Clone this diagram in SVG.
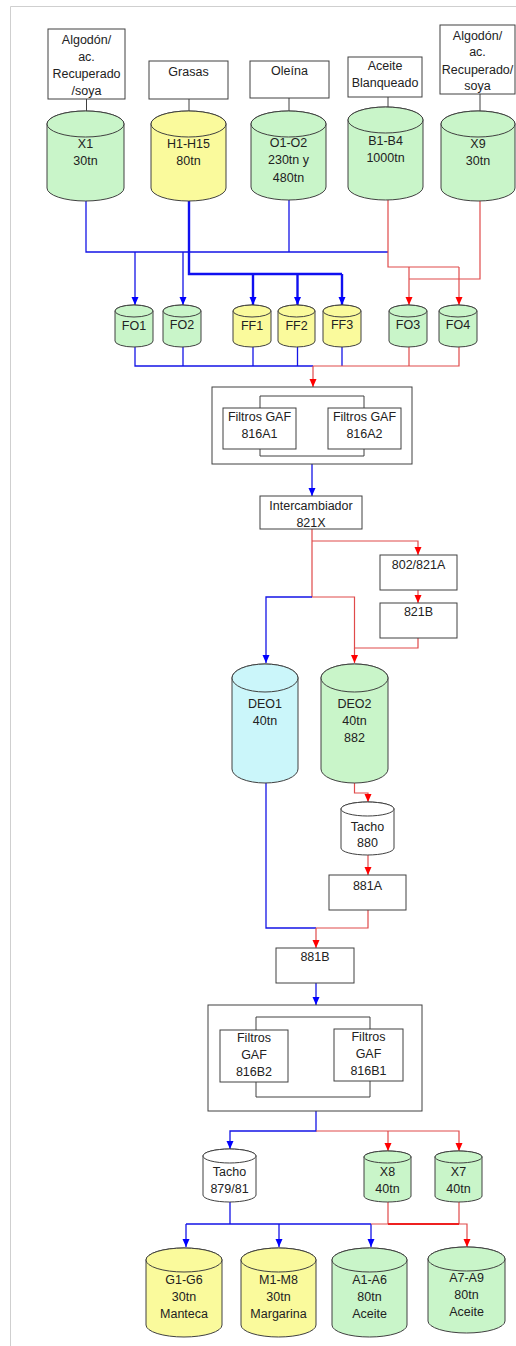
<svg xmlns="http://www.w3.org/2000/svg" width="516" height="1346" viewBox="0 0 516 1346">
  <style>
    .frame { fill: none; stroke: #cfcfcf; stroke-width: 1; }
    .box { fill: #ffffff; stroke: #404040; stroke-width: 1; }
    .tank { stroke: #404040; stroke-width: 1; }
    .g { fill: #c9f5c9; }
    .y { fill: #fafa9c; }
    .c { fill: #cbf6fa; }
    .w { fill: #ffffff; }
    .lbl { font-family: "Liberation Sans", Arial, sans-serif; font-size: 12.5px; fill: #222; text-anchor: middle; }
    .feed { fill: none; stroke: #404040; stroke-width: 1; }
    .blue { fill: none; stroke: #1414e6; stroke-width: 1.3; }
    .blue2 { fill: none; stroke: #1010f0; stroke-width: 2.4; }
    .red { fill: none; stroke: #e04a4a; stroke-width: 1.2; }
    .red2 { fill: none; stroke: #ee2020; stroke-width: 2.2; }
    .ba { marker-end: url(#ahB); }
    .ra { marker-end: url(#ahR); }
  </style>
  <defs>
    <marker id="ahB" markerUnits="userSpaceOnUse" markerWidth="9" markerHeight="8" refX="8" refY="3.5" orient="auto">
      <path d="M0,0 L8,3.5 L0,7 Z" fill="#0000ff"/>
    </marker>
    <marker id="ahR" markerUnits="userSpaceOnUse" markerWidth="9" markerHeight="8" refX="8" refY="3.5" orient="auto">
      <path d="M0,0 L8,3.5 L0,7 Z" fill="#ff0000"/>
    </marker>
  </defs>

  <rect width="516" height="1346" fill="#ffffff"/>
  <path class="frame" d="M10.5,1346 V6.5 H516"/>

  <!-- connectors -->
  <g id="connectors">
    <!-- feed boxes to storage tanks -->
    <path class="feed" d="M86.5,99 V111 M189,99 V111 M289,98 V111 M388,97 V107 M480,94 V111"/>

    <!-- storage tanks to FO / FF tanks -->
    <path class="blue" d="M86,201 V252 H388 M289,200 V252"/>
    <path class="blue ba" d="M135,252 V305"/>
    <path class="blue ba" d="M183,252 V305"/>
    <path class="blue2" d="M189,201 V274 H342"/>
    <path class="blue2 ba" d="M253,274 V305"/>
    <path class="blue2 ba" d="M297.5,274 V305"/>
    <path class="blue2 ba" d="M342,274 V305"/>
    <path class="red" d="M388,200 V267 H459 M480,201 V279 H409"/>
    <path class="red ra" d="M409,267 V305"/>
    <path class="red ra" d="M459,267 V305"/>

    <!-- FO / FF tanks to filters A -->
    <path class="blue" d="M135,347 V366 H313 M183,347 V366 M253,347 V366 M297.5,347 V366 M342,347 V366"/>
    <path class="red" d="M313,366 H459 V347 M409,347 V366"/>
    <path class="red ra" d="M313,366 V387"/>

    <!-- filters A to exchanger -->
    <path class="blue ba" d="M312,464 V496"/>

    <!-- exchanger to deodorizers -->
    <path class="red" d="M312,529 V597 H354.5 V648 H418 V638"/>
    <path class="red ra" d="M312,541 H418 V555"/>
    <path class="red ra" d="M418,590 V603"/>
    <path class="red ra" d="M354.5,648 V663"/>
    <path class="blue ba" d="M312,597 H266 V663"/>

    <!-- deodorizer 2 line -->
    <path class="red ra" d="M354.5,783 V793 H368 V802"/>
    <path class="red ra" d="M368,855 V875"/>
    <path class="red" d="M368,910 V928 H316"/>
    <path class="blue" d="M266,783 V928 H316"/>
    <path class="red ra" d="M316,928 V948"/>

    <!-- 881B to filters B -->
    <path class="blue ba" d="M316,983 V1005"/>

    <!-- filters B to tacho / X tanks -->
    <path class="blue ba" d="M316,1111 V1131 H230 V1149"/>
    <path class="red ra" d="M316,1131 H459 V1151"/>
    <path class="red ra" d="M388,1131 V1151"/>

    <!-- to final storage -->
    <path class="blue" d="M230,1202 V1224 M186,1224 H371"/>
    <path class="blue ba" d="M186,1224 V1247"/>
    <path class="blue ba" d="M279,1224 V1247"/>
    <path class="blue ba" d="M371,1224 V1247"/>
    <path class="red" d="M371,1224 H388 V1202 M459,1202 V1224"/>
    <path class="red2" d="M388,1224 H459"/>
    <path class="red ra" d="M459,1224 H467 V1247"/>
  </g>

  <!-- feed boxes -->
  <g id="src-algodon1">
    <rect class="box" x="48" y="29" width="77" height="70"/>
    <text class="lbl" x="86.5" y="44">Algodón/<tspan x="86.5" dy="17">ac.</tspan><tspan x="86.5" dy="17">Recuperado</tspan><tspan x="86.5" dy="17">/soya</tspan></text>
  </g>
  <g id="src-grasas">
    <rect class="box" x="149" y="61" width="79" height="38"/>
    <text class="lbl" x="188.5" y="75.5">Grasas</text>
  </g>
  <g id="src-oleina">
    <rect class="box" x="250" y="61" width="79" height="37"/>
    <text class="lbl" x="289.5" y="75">Oleína</text>
  </g>
  <g id="src-blanqueado">
    <rect class="box" x="348" y="57" width="74" height="40"/>
    <text class="lbl" x="385" y="69.5">Aceite<tspan x="385" dy="17.5">Blanqueado</tspan></text>
  </g>
  <g id="src-algodon2">
    <rect class="box" x="440" y="25" width="75" height="69"/>
    <text class="lbl" x="477.5" y="39.5">Algodón/<tspan x="477.5" dy="16">ac.</tspan><tspan x="477.5" dy="18">Recuperado/</tspan><tspan x="477.5" dy="16.5">soya</tspan></text>
  </g>

  <!-- storage tanks -->
  <g id="tank-x1">
    <path class="tank g" d="M47,124 V188 A38.5,13 0 0 0 124,188 V124 A38.5,13 0 0 0 47,124 Z"/>
    <ellipse class="tank g" cx="85.5" cy="124" rx="38.5" ry="13"/>
    <text class="lbl" x="85.5" y="147.5">X1<tspan x="85.5" dy="17">30tn</tspan></text>
  </g>
  <g id="tank-h1">
    <path class="tank y" d="M151,124 V188 A37.5,13 0 0 0 226,188 V124 A37.5,13 0 0 0 151,124 Z"/>
    <ellipse class="tank y" cx="188.5" cy="124" rx="37.5" ry="13"/>
    <text class="lbl" x="188.5" y="147.5">H1-H15<tspan x="188.5" dy="17">80tn</tspan></text>
  </g>
  <g id="tank-o1">
    <path class="tank g" d="M251,124 V187 A37.5,13 0 0 0 326,187 V124 A37.5,13 0 0 0 251,124 Z"/>
    <ellipse class="tank g" cx="288.5" cy="124" rx="37.5" ry="13"/>
    <text class="lbl" x="288.5" y="146.5">O1-O2<tspan x="288.5" dy="17.5">230tn y</tspan><tspan x="288.5" dy="17.5">480tn</tspan></text>
  </g>
  <g id="tank-b1">
    <path class="tank g" d="M348,120 V187 A37.5,13 0 0 0 423,187 V120 A37.5,13 0 0 0 348,120 Z"/>
    <ellipse class="tank g" cx="385.5" cy="120" rx="37.5" ry="13"/>
    <text class="lbl" x="385.5" y="144.5">B1-B4<tspan x="385.5" dy="17.5">1000tn</tspan></text>
  </g>
  <g id="tank-x9">
    <path class="tank g" d="M441,124 V188 A37,13 0 0 0 515,188 V124 A37,13 0 0 0 441,124 Z"/>
    <ellipse class="tank g" cx="478" cy="124" rx="37" ry="13"/>
    <text class="lbl" x="478" y="147.5">X9<tspan x="478" dy="17">30tn</tspan></text>
  </g>

  <!-- FO / FF tanks -->
  <g id="tank-fo1">
    <path class="tank g" d="M115,311 V341 A19,6 0 0 0 153,341 V311 A19,6 0 0 0 115,311 Z"/>
    <ellipse class="tank g" cx="134" cy="311" rx="19" ry="6"/>
    <text class="lbl" x="134" y="330">FO1</text>
  </g>
  <g id="tank-fo2">
    <path class="tank g" d="M163,311 V341 A19,6 0 0 0 201,341 V311 A19,6 0 0 0 163,311 Z"/>
    <ellipse class="tank g" cx="182" cy="311" rx="19" ry="6"/>
    <text class="lbl" x="182" y="329">FO2</text>
  </g>
  <g id="tank-ff1">
    <path class="tank y" d="M233,311 V341 A19,6 0 0 0 271,341 V311 A19,6 0 0 0 233,311 Z"/>
    <ellipse class="tank y" cx="252" cy="311" rx="19" ry="6"/>
    <text class="lbl" x="252" y="330">FF1</text>
  </g>
  <g id="tank-ff2">
    <path class="tank y" d="M278,311 V341 A18.5,6 0 0 0 315,341 V311 A18.5,6 0 0 0 278,311 Z"/>
    <ellipse class="tank y" cx="296.5" cy="311" rx="18.5" ry="6"/>
    <text class="lbl" x="296.5" y="330">FF2</text>
  </g>
  <g id="tank-ff3">
    <path class="tank y" d="M323,311 V341 A19,6 0 0 0 361,341 V311 A19,6 0 0 0 323,311 Z"/>
    <ellipse class="tank y" cx="342" cy="311" rx="19" ry="6"/>
    <text class="lbl" x="342" y="329">FF3</text>
  </g>
  <g id="tank-fo3">
    <path class="tank g" d="M389,311 V341 A19,6 0 0 0 427,341 V311 A19,6 0 0 0 389,311 Z"/>
    <ellipse class="tank g" cx="408" cy="311" rx="19" ry="6"/>
    <text class="lbl" x="408" y="329">FO3</text>
  </g>
  <g id="tank-fo4">
    <path class="tank g" d="M439,311 V341 A19,6 0 0 0 477,341 V311 A19,6 0 0 0 439,311 Z"/>
    <ellipse class="tank g" cx="458" cy="311" rx="19" ry="6"/>
    <text class="lbl" x="458" y="329">FO4</text>
  </g>

  <!-- GAF filters, first stage -->
  <g id="filters-a">
    <rect class="box" x="212" y="387" width="200" height="77"/>
    <path class="feed" d="M260,408 V396 H364 V408 M260,449 V456 H364 V449"/>
    <rect class="box" x="223" y="408" width="73" height="41"/>
    <rect class="box" x="328" y="408" width="73" height="41"/>
    <text class="lbl" x="259.5" y="421">Filtros GAF<tspan x="259.5" dy="17">816A1</tspan></text>
    <text class="lbl" x="364.5" y="421">Filtros GAF<tspan x="364.5" dy="17">816A2</tspan></text>
  </g>

  <g id="exchanger-821x">
    <rect class="box" x="260" y="496" width="102" height="33"/>
    <text class="lbl" x="311" y="509.5">Intercambiador<tspan x="311" dy="17">821X</tspan></text>
  </g>
  <g id="unit-802-821a">
    <rect class="box" x="380" y="555" width="77" height="35"/>
    <text class="lbl" x="418.5" y="568.5">802/821A</text>
  </g>
  <g id="unit-821b">
    <rect class="box" x="380" y="603" width="77" height="35"/>
    <text class="lbl" x="418.5" y="616">821B</text>
  </g>

  <!-- deodorizers -->
  <g id="deo1">
    <path class="tank c" d="M232,678 V769 A33,14 0 0 0 298,769 V678 A33,14 0 0 0 232,678 Z"/>
    <ellipse class="tank c" cx="265" cy="678" rx="33" ry="14"/>
    <text class="lbl" x="265" y="707.5">DEO1<tspan x="265" dy="17">40tn</tspan></text>
  </g>
  <g id="deo2">
    <path class="tank g" d="M321,678 V769 A33.5,14 0 0 0 388,769 V678 A33.5,14 0 0 0 321,678 Z"/>
    <ellipse class="tank g" cx="354.5" cy="678" rx="33.5" ry="14"/>
    <text class="lbl" x="354.5" y="707.5">DEO2<tspan x="354.5" dy="17">40tn</tspan><tspan x="354.5" dy="17">882</tspan></text>
  </g>

  <g id="tacho-880">
    <path class="tank w" d="M341,809 V848 A26.5,7 0 0 0 394,848 V809 A26.5,7 0 0 0 341,809 Z"/>
    <ellipse class="tank w" cx="367.5" cy="809" rx="26.5" ry="7"/>
    <text class="lbl" x="367.5" y="830.5">Tacho<tspan x="367.5" dy="16.5">880</tspan></text>
  </g>
  <g id="unit-881a">
    <rect class="box" x="329" y="875" width="77" height="35"/>
    <text class="lbl" x="367.5" y="889.5">881A</text>
  </g>
  <g id="unit-881b">
    <rect class="box" x="276" y="948" width="78" height="35"/>
    <text class="lbl" x="315" y="961">881B</text>
  </g>

  <!-- GAF filters, second stage -->
  <g id="filters-b">
    <rect class="box" x="208" y="1005" width="214" height="106"/>
    <path class="feed" d="M256,1030 V1017 H370 V1029 M256,1082 V1097 H370 V1081"/>
    <rect class="box" x="220" y="1030" width="68" height="52"/>
    <rect class="box" x="334" y="1029" width="69" height="52"/>
    <text class="lbl" x="254" y="1042">Filtros<tspan x="254" dy="17">GAF</tspan><tspan x="254" dy="17">816B2</tspan></text>
    <text class="lbl" x="368.5" y="1041">Filtros<tspan x="368.5" dy="17">GAF</tspan><tspan x="368.5" dy="17">816B1</tspan></text>
  </g>

  <g id="tacho-879-81">
    <path class="tank w" d="M203,1156 V1195 A26.5,7 0 0 0 256,1195 V1156 A26.5,7 0 0 0 203,1156 Z"/>
    <ellipse class="tank w" cx="229.5" cy="1156" rx="26.5" ry="7"/>
    <text class="lbl" x="229.5" y="1176">Tacho<tspan x="229.5" dy="17">879/81</tspan></text>
  </g>
  <g id="tank-x8">
    <path class="tank g" d="M364,1157 V1196 A23.5,6 0 0 0 411,1196 V1157 A23.5,6 0 0 0 364,1157 Z"/>
    <ellipse class="tank g" cx="387.5" cy="1157" rx="23.5" ry="6"/>
    <text class="lbl" x="387.5" y="1176">X8<tspan x="387.5" dy="17">40tn</tspan></text>
  </g>
  <g id="tank-x7">
    <path class="tank g" d="M435,1157 V1196 A23.5,6 0 0 0 482,1196 V1157 A23.5,6 0 0 0 435,1157 Z"/>
    <ellipse class="tank g" cx="458.5" cy="1157" rx="23.5" ry="6"/>
    <text class="lbl" x="458.5" y="1176">X7<tspan x="458.5" dy="17">40tn</tspan></text>
  </g>

  <!-- final storage -->
  <g id="tank-g1">
    <path class="tank y" d="M146,1260 V1325 A38,12 0 0 0 222,1325 V1260 A38,12 0 0 0 146,1260 Z"/>
    <ellipse class="tank y" cx="184" cy="1260" rx="38" ry="12"/>
    <text class="lbl" x="184" y="1283.5">G1-G6<tspan x="184" dy="17">30tn</tspan><tspan x="184" dy="17">Manteca</tspan></text>
  </g>
  <g id="tank-m1">
    <path class="tank y" d="M241,1260 V1325 A37.5,12 0 0 0 316,1325 V1260 A37.5,12 0 0 0 241,1260 Z"/>
    <ellipse class="tank y" cx="278.5" cy="1260" rx="37.5" ry="12"/>
    <text class="lbl" x="278.5" y="1283.5">M1-M8<tspan x="278.5" dy="17">30tn</tspan><tspan x="278.5" dy="17">Margarina</tspan></text>
  </g>
  <g id="tank-a1">
    <path class="tank g" d="M332,1260 V1325 A37.5,12 0 0 0 407,1325 V1260 A37.5,12 0 0 0 332,1260 Z"/>
    <ellipse class="tank g" cx="369.5" cy="1260" rx="37.5" ry="12"/>
    <text class="lbl" x="369.5" y="1283.5">A1-A6<tspan x="369.5" dy="17">80tn</tspan><tspan x="369.5" dy="17">Aceite</tspan></text>
  </g>
  <g id="tank-a7">
    <path class="tank g" d="M428,1259 V1321 A38.5,12 0 0 0 505,1321 V1259 A38.5,12 0 0 0 428,1259 Z"/>
    <ellipse class="tank g" cx="466.5" cy="1259" rx="38.5" ry="12"/>
    <text class="lbl" x="466.5" y="1281.5">A7-A9<tspan x="466.5" dy="17">80tn</tspan><tspan x="466.5" dy="17">Aceite</tspan></text>
  </g>
</svg>
